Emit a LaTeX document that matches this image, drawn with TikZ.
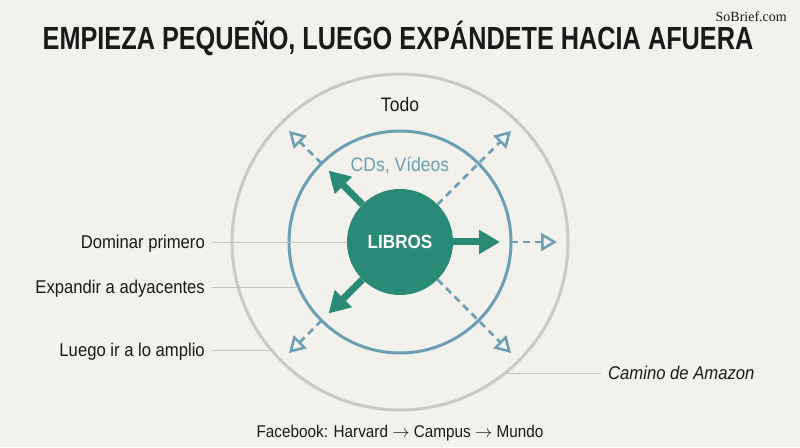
\documentclass[tikz,border=0pt]{standalone}
\usepackage{fontspec}
\setmainfont{Liberation Sans}[FakeStretch=0.9]
\newfontfamily\titlefont{Liberation Sans}[FakeStretch=0.79]
\newfontfamily\markfont{Liberation Serif}
\usetikzlibrary{arrows.meta,positioning}
\definecolor{paper}{HTML}{F2F1EC}
\definecolor{libteal}{HTML}{2A8A78}
\definecolor{ringblue}{HTML}{6A9FB5}
\definecolor{ringgray}{HTML}{C9C9C5}
\definecolor{leadgray}{HTML}{C4C4C0}
\definecolor{inkblack}{HTML}{1A1A1A}
\tikzset{
  ring/.style={circle,draw,inner sep=0pt,outer sep=0pt,line width=3pt},
  sidelabel/.style={anchor=east,text=inkblack,inner ysep=0pt,inner xsep=7pt,
    text height=13pt,text depth=0pt,font=\fontsize{18.5}{20}\selectfont},
  leader/.style={draw=leadgray,line width=0.8pt},
  pusharrow/.style={draw=libteal,line width=7pt,-{Triangle[length=21pt,width=23pt]}},
  reacharrow/.style={draw=ringblue,line width=2.5pt,dash pattern=on 7pt off 5pt,
    -{Triangle[open,length=16pt,width=18pt,fill=paper]}}
}
\begin{document}
\begin{tikzpicture}[x=1pt,y=1pt]
      \fill[paper] (0,0) rectangle (800,447);
      \useasboundingbox (0,0) rectangle (800,447);
      \coordinate (ctr) at (400,205);
      \node[font=\titlefont\bfseries\fontsize{32}{36}\selectfont,text=inkblack,anchor=base]
        (title) at (398,397) {EMPIEZA PEQUEÑO, LUEGO EXPÁNDETE HACIA AFUERA};
      \node[font=\markfont\fontsize{14}{16}\selectfont,text=inkblack,anchor=base east,inner sep=1pt]
        (brand) at (788,425) {SoBrief.com};
      \node[sidelabel] (dominar) at (212,205) {Dominar primero};
      \node[sidelabel] (expandir) at (212,160) {Expandir a adyacentes};
      \node[sidelabel] (luego) at (212,97) {Luego ir a lo amplio};
      \node[sidelabel,anchor=west,font=\fontsize{18.5}{20}\selectfont\itshape]
        (amazon) at (601,74) {Camino de Amazon};
      \node[font=\fontsize{17}{19}\selectfont,text=inkblack,anchor=base]
        (facebook) at (400,10) {Facebook: Harvard $\rightarrow$ Campus $\rightarrow$ Mundo};
      \node[ring,draw=ringgray,minimum size=336pt] (outer) at (ctr) {};
      \node[ring,draw=ringblue,minimum size=222pt] (inner) at (ctr) {};
      \node[font=\fontsize{19.5}{21}\selectfont,text=inkblack,anchor=base] (todo) at (400,335) {Todo};
      \node[font=\fontsize{19.5}{21}\selectfont,text=ringblue,anchor=base] (cds) at (400,275) {CDs, Vídeos};
      \begin{scope}[leader]
        \draw (dominar.east) -- (ctr);
        \draw (expandir.east) -- (inner.203.9 |- expandir.east);
        \draw (luego.east) -- (outer.220 |- luego.east);
        \draw (amazon.west) -- (outer.-51.2 |- amazon.west);
      \end{scope}
      \node[circle,fill=libteal,minimum size=106pt,inner sep=0pt,text=white,
        font=\fontsize{19}{21}\selectfont\bfseries] (libros) at (ctr) {LIBROS};
      \coordinate (growup) at ([shift={(135:101)}]ctr);
      \coordinate (growright) at ([shift={(0:100)}]ctr);
      \coordinate (growdown) at ([shift={(225:101)}]ctr);
      \coordinate (reachnw) at ([shift={(135:157)}]ctr);
      \coordinate (reachne) at ([shift={(45:157)}]ctr);
      \coordinate (reache) at ([shift={(0:157)}]ctr);
      \coordinate (reachse) at ([shift={(-45:157)}]ctr);
      \coordinate (reachsw) at ([shift={(225:157)}]ctr);
      \begin{scope}[reacharrow]
        \draw (inner.135) -- (reachnw);
        \draw (libros.45) -- (reachne);
        \draw (inner.0) -- (reache);
        \draw (libros.-45) -- (reachse);
        \draw (inner.225) -- (reachsw);
      \end{scope}
      \begin{scope}[pusharrow]
        \draw (libros.135) -- (growup);
        \draw (libros.0) -- (growright);
        \draw (libros.225) -- (growdown);
      \end{scope}
    \end{tikzpicture}
\end{document}
